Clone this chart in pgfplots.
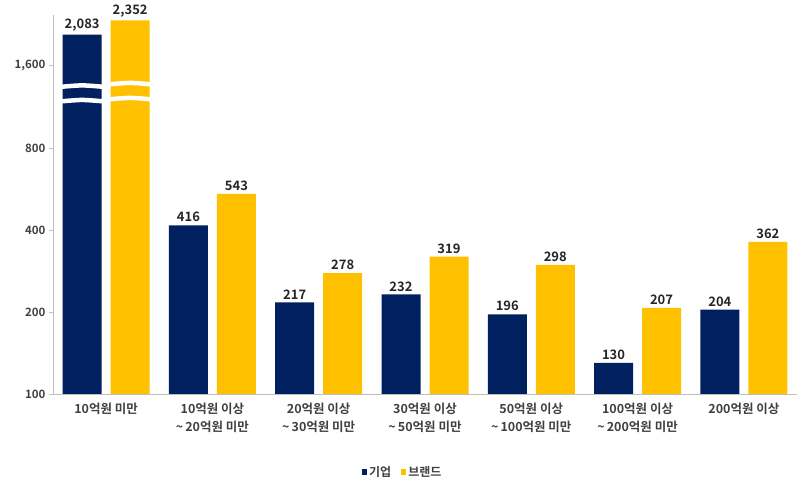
\documentclass[border=0pt]{standalone}
\usepackage{fontspec}
\setmainfont{Noto Sans CJK KR}[BoldFont={Noto Sans CJK KR Bold}]
\usepackage{pgfplots}
\pgfplotsset{compat=1.18}
\definecolor{navy}{HTML}{002060}
\definecolor{gold}{HTML}{FFC000}
\definecolor{axgray}{HTML}{BFBFBF}
\definecolor{txt}{HTML}{404040}
\begin{document}
\begin{tikzpicture}
\useasboundingbox (-53pt,-92pt) rectangle (757pt,394pt);
\begin{axis}[
  at={(0,0)}, anchor=south west,
  width=744pt, height=379pt, scale only axis,
  ymode=log, log origin=infty,
  ymin=100, ymax=2460,
  xmin=-0.5, xmax=6.5,
  clip=false,
  axis lines=left,
  axis line style={-, draw=axgray, line width=0.8pt},
  xtick={0,...,6},
  xticklabels={
    {10억원 미만},
    {10억원 이상\\\textasciitilde\,20억원 미만},
    {20억원 이상\\\textasciitilde\,30억원 미만},
    {30억원 이상\\\textasciitilde\,50억원 미만},
    {50억원 이상\\\textasciitilde\,100억원 미만},
    {100억원 이상\\\textasciitilde\,200억원 미만},
    {200억원 이상}},
  xticklabel style={align=center, font=\bfseries\fontsize{12.5}{18}\selectfont, text=txt, yshift=-1pt},
  x tick style={draw=none},
  ytick={100,200,400,800,1600},
  yticklabels={100,200,400,800,{1,600}},
  yticklabel style={font=\bfseries\fontsize{11.5}{13}\selectfont, text=txt},
  yminorticks=false,
  tick align=outside,
  major tick length=4pt,
  y tick style={draw=axgray, line width=0.8pt},
  legend style={at={(0.47,-0.206)}, anchor=center, draw=none, fill=none,
    legend columns=2, font=\bfseries\fontsize{12}{14}\selectfont, text=txt,
    /tikz/every even column/.append style={column sep=8pt}},
  legend image code/.code={\fill[#1] (0pt,-2.6pt) rectangle (5.2pt,2.6pt);},
  nodes near coords style={font=\bfseries\fontsize{13}{15}\selectfont, text=black!85, anchor=south, inner sep=3pt},
]
\addplot[ybar, bar width=39pt, bar shift=-24pt, fill=navy, draw=none,
  nodes near coords, point meta=explicit symbolic,
  every node near coord/.append style={xshift=-24pt}]
  table[x=x, y=y, meta=lab] {
x y lab
0 2083 2,083
1 416 416
2 217 217
3 232 232
4 196 196
5 130 130
6 204 204
};
\addlegendentry{기업}
\addplot[ybar, bar width=39pt, bar shift=24pt, fill=gold, draw=none,
  nodes near coords, point meta=explicit symbolic,
  every node near coord/.append style={xshift=24pt}]
  table[x=x, y=y, meta=lab] {
x y lab
0 2352 2,352
1 543 543
2 278 278
3 319 319
4 298 298
5 207 207
6 362 362
};
\addlegendentry{브랜드}
% break marks on the first group
\addplot[white, line width=4.5pt, smooth, forget plot, mark=none] coordinates {(-0.43,1340) (-0.226,1357) (-0.02,1340)};
\addplot[white, line width=4.5pt, smooth, forget plot, mark=none] coordinates {(-0.43,1185) (-0.226,1200) (-0.02,1185)};
\addplot[white, line width=4.5pt, smooth, forget plot, mark=none] coordinates {(0.02,1368) (0.226,1386) (0.43,1368)};
\addplot[white, line width=4.5pt, smooth, forget plot, mark=none] coordinates {(0.02,1205) (0.226,1221) (0.43,1205)};
\end{axis}
\end{tikzpicture}
\end{document}
